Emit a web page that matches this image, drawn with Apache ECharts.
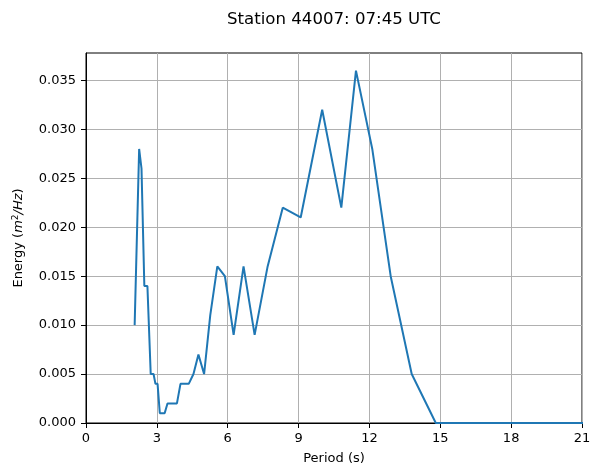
<!DOCTYPE html>
<html>
<head>
<meta charset="utf-8">
<script src="https://cdn.jsdelivr.net/npm/echarts@6/dist/echarts.min.js"></script>
<style>
  html, body { margin: 0; padding: 0; background: #fff; }
  #chart { width: 601px; height: 476px; }
</style>
</head>
<body>
<div id="chart"></div>
<script>
// Period (s) and spectral energy (m^2/Hz)
var periods = [2.06, 2.25, 2.35, 2.47, 2.60, 2.74, 2.86, 2.94, 3.03, 3.125, 3.23, 3.33, 3.45, 3.57, 3.70, 3.85,
               4.00, 4.17, 4.35, 4.55, 4.76, 5.00, 5.26, 5.56, 5.88, 6.25, 6.67, 7.14, 7.69, 8.33, 9.09,
               10.00, 10.81, 11.43, 12.12, 12.90, 13.79, 14.81, 16.00, 17.39, 19.05, 21.05];
var energy  = [0.010, 0.028, 0.026, 0.014, 0.014, 0.005, 0.005, 0.004, 0.004, 0.001, 0.001, 0.001, 0.002, 0.002, 0.002, 0.002,
               0.004, 0.004, 0.004, 0.005, 0.007, 0.005, 0.011, 0.016, 0.015, 0.009, 0.016, 0.009, 0.016, 0.022, 0.021,
               0.032, 0.022, 0.036, 0.028, 0.015, 0.005, 0.000, 0.000, 0.000, 0.000, 0.000];
var xTicks = [0, 3, 6, 9, 12, 15, 18, 21];
var yTicks = [0, 0.005, 0.010, 0.015, 0.020, 0.025, 0.030, 0.035];
var titleText = 'Station 44007: 07:45 UTC';

var font = 'DejaVu Sans';
var data = periods.map(function (p, i) { return [p, energy[i]]; });

var chart = echarts.init(document.getElementById('chart'), null, { renderer: 'canvas' });
chart.setOption({
  animation: false,
  backgroundColor: '#ffffff',
  title: {
    text: titleText,
    left: 329, top: 6, textAlign: 'center',
    textStyle: { fontFamily: font, fontSize: 16.6, fontWeight: 'normal', color: '#000' }
  },
  grid: {
    left: 86, right: 19, top: 53, bottom: 53,
    show: true, borderColor: '#000', borderWidth: 1, backgroundColor: 'transparent'
  },
  xAxis: {
    type: 'value', min: 0, max: 21, interval: 3,
    name: 'Period (s)', nameLocation: 'middle', nameGap: 29,
    nameTextStyle: { fontFamily: font, fontSize: 13, color: '#000' },
    axisLine: { show: true, lineStyle: { color: '#000', width: 1 } },
    axisTick: { show: true, length: 5, lineStyle: { color: '#000' }, customValues: xTicks },
    axisLabel: { fontFamily: font, fontSize: 13, color: '#000', margin: 9, customValues: xTicks },
    splitLine: { show: true, lineStyle: { color: '#b0b0b0', width: 1 } }
  },
  yAxis: {
    type: 'value', min: 0, max: 0.0378, interval: 0.005,
    name: '{t|Energy (}{i|m}{s|2}{i|/Hz}{t|)}', nameLocation: 'middle', nameGap: 60, nameRotate: 90,
    nameTextStyle: {
      fontFamily: font, fontSize: 13, color: '#000',
      rich: {
        t: { fontFamily: font, fontSize: 13, color: '#000' },
        i: { fontFamily: font, fontSize: 13, fontStyle: 'italic', color: '#000' },
        s: { fontFamily: font, fontSize: 9, color: '#000', verticalAlign: 'top', padding: [0, 0, 6, 0] }
      }
    },
    axisLine: { show: true, lineStyle: { color: '#000', width: 1 } },
    axisTick: { show: true, length: 5, lineStyle: { color: '#000' }, customValues: yTicks },
    axisLabel: {
      fontFamily: font, fontSize: 13, color: '#000', margin: 10, customValues: yTicks,
      formatter: function (v) { return (+v).toFixed(3); }
    },
    splitLine: { show: true, lineStyle: { color: '#b0b0b0', width: 1 } }
  },
  series: [{
    type: 'line',
    data: data,
    showSymbol: false,
    clip: true,
    lineStyle: { color: '#1f77b4', width: 2 },
    itemStyle: { color: '#1f77b4' }
  }]
});
</script>
</body>
</html>
